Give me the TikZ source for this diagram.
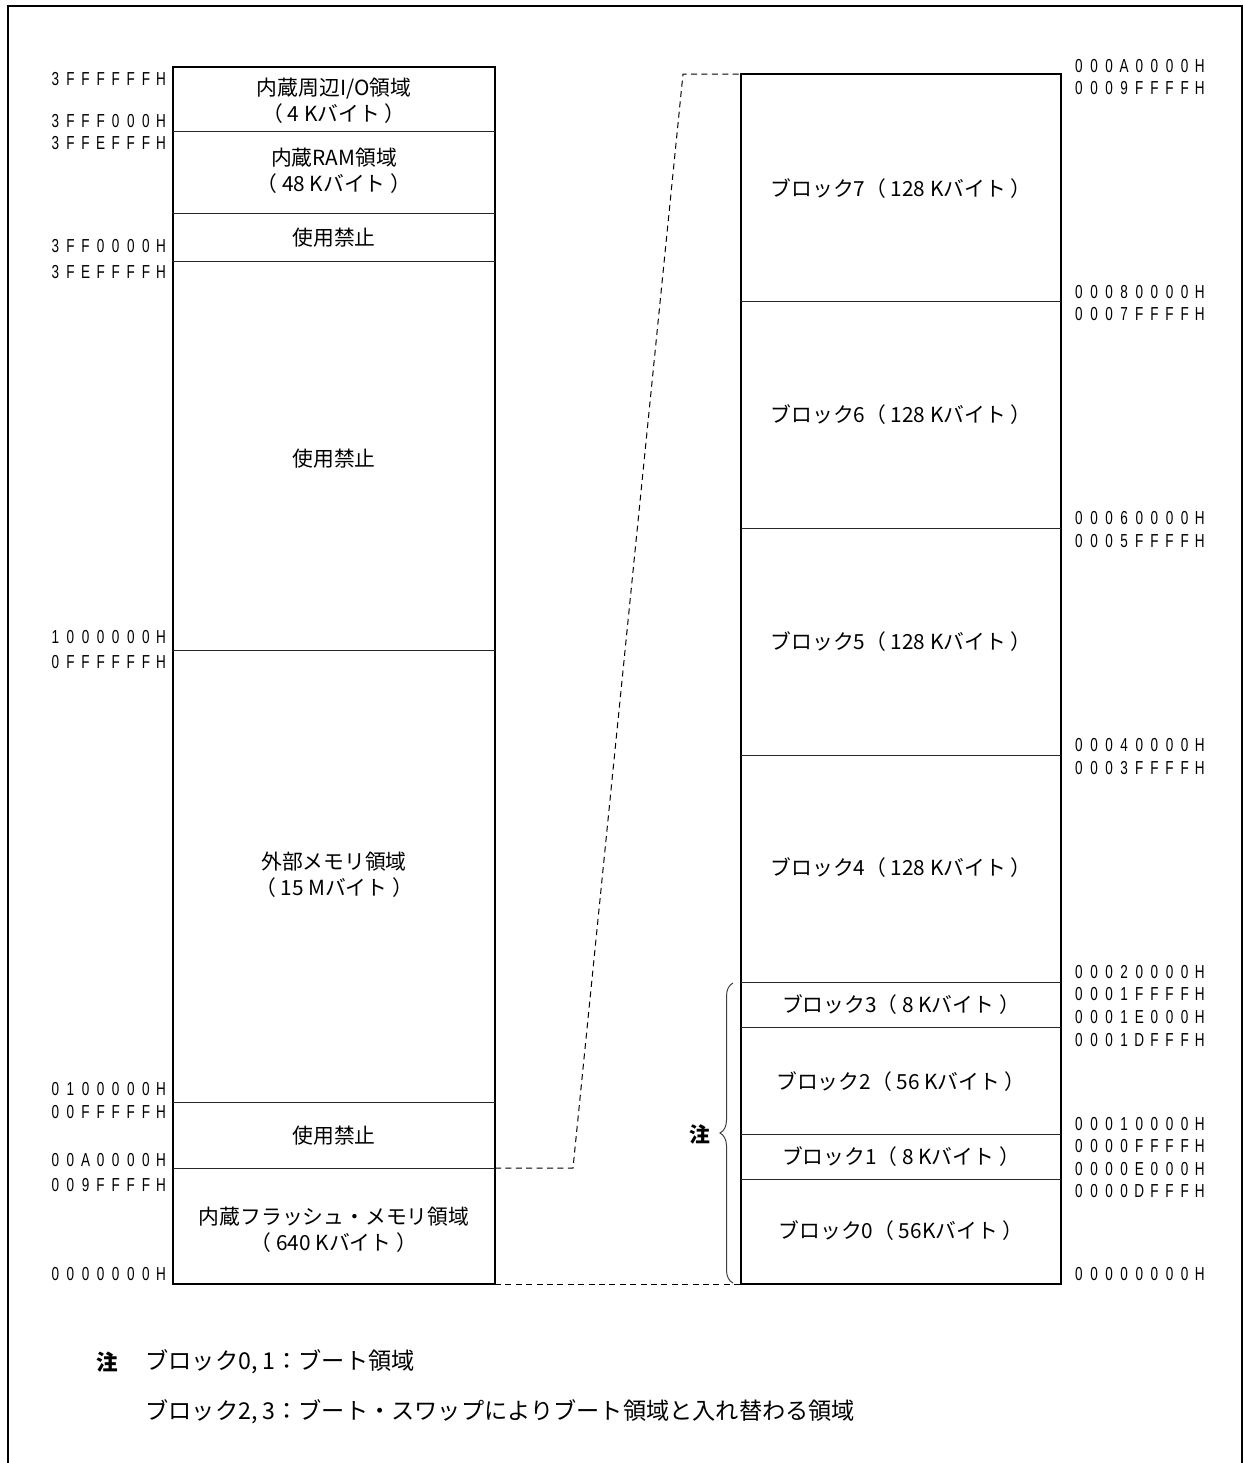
\documentclass[tikz,border=0pt]{standalone}
\usepackage{fontspec}
\setmainfont{Liberation Sans}
\newfontfamily\jpfont{Noto Sans CJK JP}
\newfontfamily\hexfont{Liberation Sans}[FakeStretch=0.72]
\usetikzlibrary{decorations.pathreplacing}

\makeatletter
\newcommand\hexaddr[1]{\hexaddr@loop#1\@nil}
\def\hexaddr@loop#1{\ifx#1\@nil\else\makebox[7.55pt]{#1}\expandafter\hexaddr@loop\fi}
\makeatother

\begin{document}
\begin{tikzpicture}[x=0.5pt, y=-0.5pt,
        region/.style={font=\jpfont\fontsize{10.4}{13}\selectfont, align=center, inner sep=0pt},
        addr/.style={font=\hexfont\fontsize{9.4}{10}\selectfont, inner sep=0pt},
        laddr/.style={addr, anchor=east},
        raddr/.style={addr, anchor=west},
        mapbox/.style={line width=1.3pt},
        divider/.style={line width=0.5pt, black!85},
        zoomline/.style={line width=0.5pt, dash pattern=on 3pt off 2.2pt},
        note/.style={font=\jpfont\fontsize{11.6}{13}\selectfont, anchor=west, inner sep=0pt}]
        \useasboundingbox (0,0) rectangle (1243,1463);

        % Frame
        \draw[line width=1pt] (8,1463) -- (8,6) -- (1242,6) -- (1242,1463);

        % Left map
        \draw[mapbox] (173,67) rectangle (495,1284);
        \draw[divider] (173,131) -- (495,131);
        \draw[divider] (173,213) -- (495,213);
        \draw[divider] (173,261) -- (495,261);
        \draw[divider] (173,650) -- (495,650);
        \draw[divider] (173,1102) -- (495,1102);
        \draw[divider] (173,1168) -- (495,1168);

        \node[region] (ioarea) at (334,101) {内蔵周辺I/O領域\\（ 4 Kバイト ）};
        \node[region] (ramarea) at (334,171) {内蔵RAM領域\\（ 48 Kバイト ）};
        \node[region] (resv1) at (334,238) {使用禁止};
        \node[region] (resv2) at (334,459) {使用禁止};
        \node[region] (extarea) at (334,875) {外部メモリ領域\\（ 15 Mバイト ）};
        \node[region] (resv3) at (334,1136) {使用禁止};
        \node[region] (flasharea) at (334,1230) {内蔵フラッシュ・メモリ領域\\（ 640 Kバイト ）};

        % Left addresses
        \node[laddr] (la1) at (169,79) {\hexaddr{3FFFFFFH}};
        \node[laddr] (la2) at (169,121) {\hexaddr{3FFF000H}};
        \node[laddr] (la3) at (169,143) {\hexaddr{3FFEFFFH}};
        \node[laddr] (la4) at (169,246) {\hexaddr{3FF0000H}};
        \node[laddr] (la5) at (169,272) {\hexaddr{3FEFFFFH}};
        \node[laddr] (la6) at (169,637) {\hexaddr{1000000H}};
        \node[laddr] (la7) at (169,662) {\hexaddr{0FFFFFFH}};
        \node[laddr] (la8) at (169,1089) {\hexaddr{0100000H}};
        \node[laddr] (la9) at (169,1112) {\hexaddr{00FFFFFH}};
        \node[laddr] (la10) at (169,1160) {\hexaddr{00A0000H}};
        \node[laddr] (la11) at (169,1185) {\hexaddr{009FFFFH}};
        \node[laddr] (la12) at (169,1274) {\hexaddr{0000000H}};

        % Right map (flash blocks)
        \draw[mapbox] (741,74) rectangle (1061,1284);
        \draw[divider] (741,301) -- (1061,301);
        \draw[divider] (741,528) -- (1061,528);
        \draw[divider] (741,755) -- (1061,755);
        \draw[divider] (741,982) -- (1061,982);
        \draw[divider] (741,1027) -- (1061,1027);
        \draw[divider] (741,1134) -- (1061,1134);
        \draw[divider] (741,1179) -- (1061,1179);

        \node[region] (blk7) at (901,189) {ブロック7（ 128 Kバイト ）};
        \node[region] (blk6) at (901,415) {ブロック6（ 128 Kバイト ）};
        \node[region] (blk5) at (901,642) {ブロック5（ 128 Kバイト ）};
        \node[region] (blk4) at (901,868) {ブロック4（ 128 Kバイト ）};
        \node[region] (blk3) at (901,1005) {ブロック3（ 8 Kバイト ）};
        \node[region] (blk2) at (901,1082) {ブロック2（ 56 Kバイト ）};
        \node[region] (blk1) at (901,1157) {ブロック1（ 8 Kバイト ）};
        \node[region] (blk0) at (901,1231) {ブロック0（ 56Kバイト ）};

        % Right addresses
        \node[raddr] (ra1) at (1071,66) {\hexaddr{000A0000H}};
        \node[raddr] (ra2) at (1071,88) {\hexaddr{0009FFFFH}};
        \node[raddr] (ra3) at (1071,292) {\hexaddr{00080000H}};
        \node[raddr] (ra4) at (1071,314) {\hexaddr{0007FFFFH}};
        \node[raddr] (ra5) at (1071,518) {\hexaddr{00060000H}};
        \node[raddr] (ra6) at (1071,541) {\hexaddr{0005FFFFH}};
        \node[raddr] (ra7) at (1071,745) {\hexaddr{00040000H}};
        \node[raddr] (ra8) at (1071,768) {\hexaddr{0003FFFFH}};
        \node[raddr] (ra9) at (1071,972) {\hexaddr{00020000H}};
        \node[raddr] (ra10) at (1071,994) {\hexaddr{0001FFFFH}};
        \node[raddr] (ra11) at (1071,1017) {\hexaddr{0001E000H}};
        \node[raddr] (ra12) at (1071,1040) {\hexaddr{0001DFFFH}};
        \node[raddr] (ra13) at (1071,1124) {\hexaddr{00010000H}};
        \node[raddr] (ra14) at (1071,1146) {\hexaddr{0000FFFFH}};
        \node[raddr] (ra15) at (1071,1169) {\hexaddr{0000E000H}};
        \node[raddr] (ra16) at (1071,1191) {\hexaddr{0000DFFFH}};
        \node[raddr] (ra17) at (1071,1274) {\hexaddr{00000000H}};

        % Zoom lines
        \coordinate (flashtop) at (495,1168);
        \coordinate (flashbot) at (495,1284);
        \coordinate (bend1) at (573,1168);
        \coordinate (bend2) at (683,74);
        \coordinate (blocktop) at (741,74);
        \coordinate (blockbot) at (741,1284);
        \draw[zoomline] (flashtop) -- (bend1) -- (bend2) -- (blocktop);
        \draw[zoomline] (flashbot) -- (blockbot);

        % Brace for boot blocks
        \coordinate (bracebot) at (733,1283);
        \coordinate (bracetop) at (733,983);
        \draw[decorate, decoration={brace, amplitude=6.5pt}, line width=0.5pt, black!75] (bracebot) -- (bracetop);
        \node[font=\jpfont\bfseries\fontsize{10.4}{13}\selectfont, inner sep=0pt] (notemark) at (700,1134) {注};

        % Notes
        \node[note, font=\jpfont\bfseries\fontsize{10.8}{13}\selectfont] (notehead) at (96,1362) {注};
        \node[note] (note1) at (145,1362) {ブロック0, 1：ブート領域};
        \node[note] (note2) at (145,1412) {ブロック2, 3：ブート・スワップによりブート領域と入れ替わる領域};
    \end{tikzpicture}
\end{document}
